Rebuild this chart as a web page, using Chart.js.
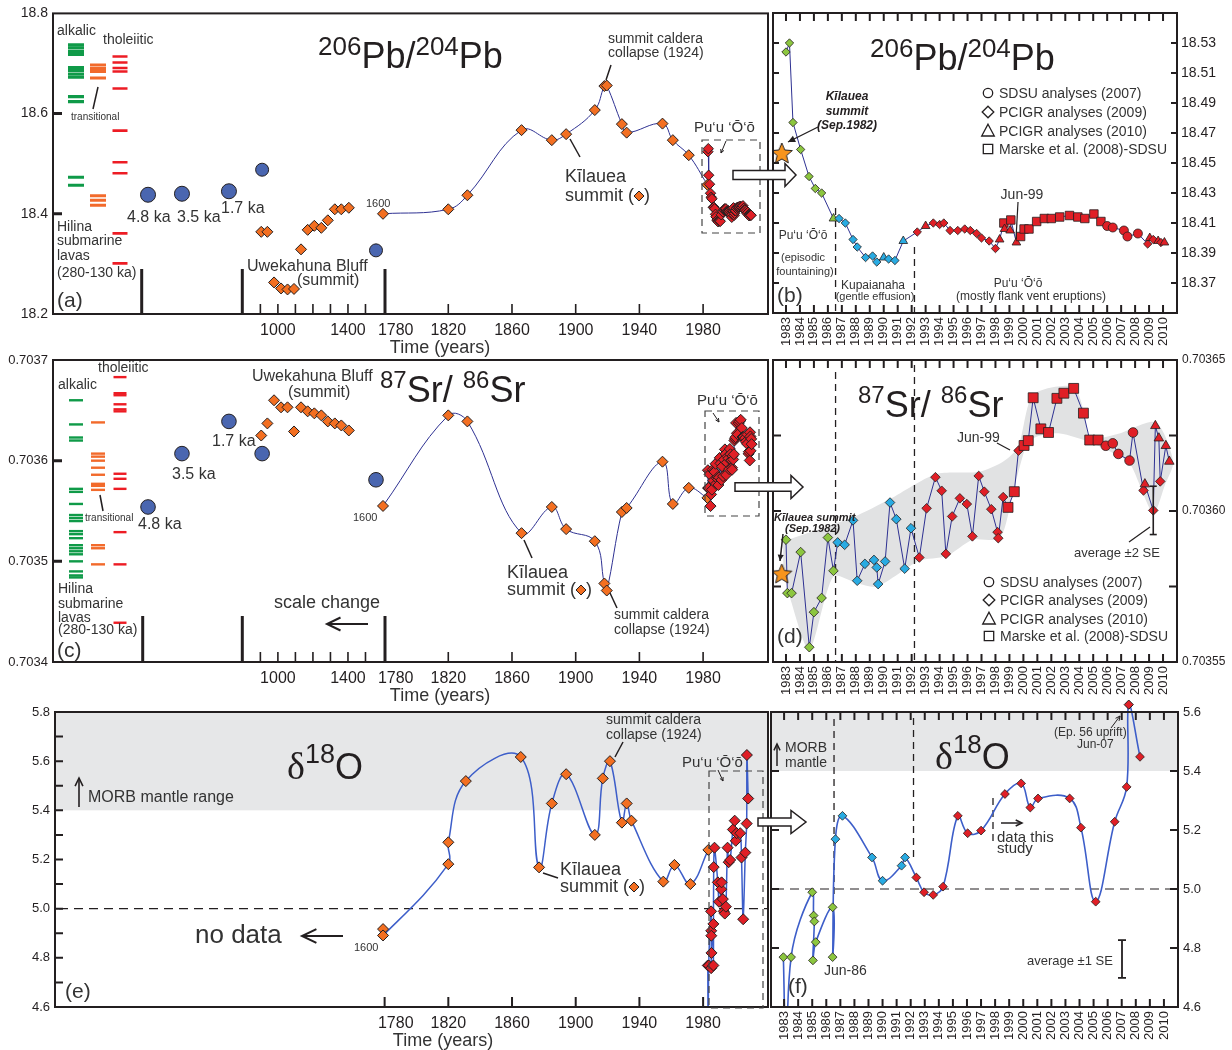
<!DOCTYPE html>
<html>
<head>
<meta charset="utf-8">
<title>Kilauea Pb, Sr, O isotopes through time</title>
<script src="https://cdn.jsdelivr.net/npm/chart.js@4.4.1/dist/chart.umd.min.js"></script>
<style>
  body { margin: 0; background: #fff; }
  #fig { position: relative; width: 1232px; height: 1050px; }
  #fig canvas { position: absolute; left: 0; top: 0; }
</style>
</head>
<body>
<div id="fig">
  <canvas id="pa" width="1232" height="1050"></canvas>
  <canvas id="pb" width="1232" height="1050"></canvas>
  <canvas id="pc" width="1232" height="1050"></canvas>
  <canvas id="pd" width="1232" height="1050"></canvas>
  <canvas id="pe" width="1232" height="1050"></canvas>
  <canvas id="pf" width="1232" height="1050"></canvas>
</div>
<script>
// ---------- data ----------

// historical Kilauea summit lavas (a, c)
var summitYears = [1600, 1820, 1832, 1866, 1885, 1894, 1912, 1918, 1919.5, 1929, 1932, 1954.5, 1961, 1971, 1982.7];
var summitPb = [18.400, 18.409, 18.437, 18.567, 18.547, 18.559, 18.607, 18.655, 18.656, 18.579, 18.562, 18.580, 18.547, 18.517, 18.458];
var summitSr = [0.703555, 0.703645, 0.703639, 0.703528, 0.703554, 0.703532, 0.703520, 0.703478, 0.703471, 0.703549, 0.703553, 0.703599, 0.703557, 0.703573, 0.703563];

// Kilauea summit Sep. 1982 (star)
var starYear = [1982.7];
var starPb = [18.456];
var starSr = [0.703579];

// Uwekahuna Bluff section
var bluffYears = [905, 940, 978, 1018, 1055, 1092, 1132, 1170, 1208, 1248, 1285, 1325, 1362, 1405];
var bluffPb = [18.364, 18.364, 18.263, 18.251, 18.249, 18.250, 18.329, 18.368, 18.376, 18.372, 18.387, 18.409, 18.409, 18.412];
var bluffSr = [0.703625, 0.703637, 0.703660, 0.703653, 0.703653, 0.703629, 0.703653, 0.703649, 0.703647, 0.703645, 0.703639, 0.703637, 0.703635, 0.703630];
var datedYears = [910, 1560];
var datedPb = [18.488, 18.327];
var datedSr = [0.703607, 0.703581];

// older lavas, ages in ka
var kaAges = [4.8, 3.5, 1.7];
var kaPb = [18.438, 18.440, 18.445];
var kaSr = [0.703554, 0.703607, 0.703639];

// Hilina submarine lavas (280-130 ka), columns: 0 alkalic, 1 transitional, 2 tholeiitic
var hilinaAlkPb = [18.737, 18.731, 18.724, 18.718, 18.692, 18.686, 18.679, 18.673, 18.634, 18.624, 18.473, 18.457];
var hilinaTransPb = [18.697, 18.690, 18.684, 18.671, 18.436, 18.427, 18.417];
var hilinaTholPb = [18.714, 18.702, 18.691, 18.684, 18.650, 18.566, 18.503, 18.481, 18.361, 18.301];
var hilinaAlkSr = [0.703660, 0.703636, 0.703623, 0.703620, 0.703572, 0.703569, 0.703557, 0.703546, 0.703543, 0.703540,
                   0.703530, 0.703527, 0.703523, 0.703516, 0.703513, 0.703510, 0.703507, 0.703500, 0.703490, 0.703486, 0.703484];
var hilinaTransSr = [0.703638, 0.703607, 0.703604, 0.703600, 0.703593, 0.703586, 0.703577, 0.703575, 0.703571, 0.703516, 0.703513, 0.703497];
var hilinaTholSr = [0.703683, 0.703667, 0.703665, 0.703656, 0.703651, 0.703649, 0.703587, 0.703582, 0.703572, 0.703529, 0.703497, 0.703439];

// Pu'u 'O'o 206Pb/204Pb (b); marks: d PCIGR 2009, t PCIGR 2010, s Marske 2008, c SDSU 2007
var pbYears = [1983.0, 1983.25, 1983.5, 1984.05, 1984.65, 1985.1, 1985.55, 1986.4, 1986.8, 1987.25,
               1987.8, 1988.1, 1988.7, 1989.2, 1989.5, 1990.0, 1990.35, 1990.8, 1991.4, 1992.4,
               1993.0, 1993.55, 1994.0, 1994.3, 1994.75, 1995.3, 1995.8, 1996.2, 1996.65, 1997.0,
               1997.55, 1998.0, 1998.3, 1998.6, 1998.65, 1999.05, 1999.1, 1999.5, 1999.8, 2000.05,
               2000.4, 2000.95, 2001.5, 2002.0, 2002.6, 2003.3, 2003.9, 2004.4, 2005.05, 2005.55,
               2006.0, 2006.4, 2007.2, 2007.45, 2008.2, 2008.9, 2009.05, 2009.3, 2009.65, 2009.85, 2010.1];
var pbValues = [18.524, 18.530, 18.477, 18.459, 18.441, 18.433, 18.430, 18.413, 18.413, 18.410,
                18.399, 18.394, 18.387, 18.388, 18.384, 18.387, 18.386, 18.385, 18.398, 18.404,
                18.408, 18.410, 18.409, 18.410, 18.405, 18.405, 18.406, 18.405, 18.403, 18.400,
                18.398, 18.393, 18.399, 18.410, 18.406, 18.405, 18.412, 18.397, 18.401, 18.406,
                18.406, 18.411, 18.413, 18.413, 18.414, 18.415, 18.414, 18.413, 18.416, 18.411,
                18.408, 18.407, 18.405, 18.401, 18.403, 18.396, 18.400, 18.399, 18.398, 18.397, 18.397];
var pbMarks = ('dddddddtdd' + 'dddddtddtd' + 'tddddddddd' + 'ddtsttstss' + 'ssssssssss' + 'cccccdtdtdt').split('');

// Pu'u 'O'o 87Sr/86Sr (d)
var srYears = [1983.0, 1983.1, 1983.4, 1984.05, 1984.67, 1985.0, 1985.55, 1986.0, 1986.4, 1986.7,
               1987.2, 1987.8, 1988.1, 1988.65, 1989.3, 1989.5, 1989.6, 1990.1, 1990.45, 1990.9,
               1991.5, 1991.95, 1992.55, 1993.07, 1993.7, 1994.15, 1994.45, 1994.9, 1995.45, 1995.95,
               1996.35, 1996.8, 1997.2, 1997.7, 1998.15, 1998.2, 1998.55, 1998.9, 1999.35, 1999.65,
               2000.05, 2000.35, 2000.7, 2001.25, 2001.8, 2002.4, 2002.9, 2003.6, 2004.3, 2004.75,
               2005.35, 2005.9, 2006.4, 2006.8, 2007.6, 2007.85, 2008.6, 2008.7, 2009.3, 2009.45,
               2009.7, 2009.8, 2010.2, 2010.45];
var srValues = [0.7035905, 0.7035728, 0.7035728, 0.7035864, 0.7035549, 0.7035665, 0.7035712, 0.7035912, 0.7035802, 0.7035896,
                0.7035888, 0.7035969, 0.7035769, 0.7035825, 0.7035838, 0.7035813, 0.7035758, 0.7035833, 0.7036028, 0.7035973,
                0.7035809, 0.7035943, 0.7035846, 0.7036009, 0.7036112, 0.7036067, 0.7035858, 0.7035982, 0.7036042, 0.7036023,
                0.7035916, 0.7036116, 0.7036064, 0.7036006, 0.7035930, 0.7035910, 0.7036046, 0.7036012, 0.7036064, 0.7036200,
                0.7036217, 0.7036233, 0.7036375, 0.7036272, 0.7036260, 0.7036373, 0.7036390, 0.7036406, 0.7036324, 0.7036235,
                0.7036235, 0.7036216, 0.7036224, 0.7036189, 0.7036167, 0.7036260, 0.7036068, 0.7036089, 0.7036002, 0.7036282,
                0.7036241, 0.7036098, 0.7036216, 0.7036164];
var srMarks = ('dddddddddd' + 'dddddddddd' + 'dddddddddd' + 'dddddddssd' + 'ssssssssss' + 'scccccdtdt' + 'tdtt').split('');
var srErrPoint = [2009.3, 0.7036002];
var srTwoSE = 0.000008;

// grey envelope round the Sr data (upper edge, then lower edge back)
var envYears = [1982.8, 1987.82, 1990.45, 1993.72, 1996.82, 1998.56, 1999.63, 2000.7, 2003.57, 2004.34,
                2004.77, 2006.68, 2009.47, 2010.73, 2010.14, 2009.3, 2007.63, 2006.68, 2004.77, 2002.62,
                2000.95, 2000.23, 1999.28, 1998.32, 1996.37, 1994.46, 1992.55, 1989.54, 1988.1, 1986.39,
                1984.67, 1983.29, 1982.8];
var envSr = [0.7035899, 0.7035980, 0.7036040, 0.7036122, 0.7036130, 0.7036164, 0.7036213, 0.7036384, 0.7036412, 0.7036329,
             0.7036241, 0.7036254, 0.7036294, 0.7036164, 0.7036087, 0.7035993, 0.7036158, 0.7036186, 0.7036228, 0.7036257,
             0.7036246, 0.7036219, 0.7036065, 0.7035910, 0.7035905, 0.7035850, 0.7035835, 0.7035750, 0.7035761, 0.7035783,
             0.7035541, 0.7035712, 0.7035800];

// delta 18O: summit (e) and Pu'u 'O'o (f)
var summitOYears = [1600, 1600, 1820, 1820, 1831, 1865.5, 1877, 1885, 1894, 1912, 1917, 1921.5, 1929, 1932, 1935, 1955, 1962, 1972, 1983.3];
var summitO = [4.917, 4.891, 5.181, 5.270, 5.519, 5.617, 5.168, 5.428, 5.547, 5.300, 5.530, 5.600, 5.350, 5.428, 5.358, 5.110, 5.178, 5.100, 5.239];
var oYears = [1982.95, 1983.2, 1983.5, 1985.0, 1985.1, 1985.15, 1985.05, 1985.25, 1986.45, 1986.45,
              1986.65, 1987.15, 1989.25, 1990.0, 1991.35, 1991.6, 1992.4, 1992.95, 1993.6, 1994.3,
              1995.35, 1996.05, 1997.0, 1998.7, 1999.85, 2000.5, 2001.05, 2003.3, 2004.1, 2005.15,
              2006.5, 2007.35, 2007.5, 2008.3];
var oValues = [4.769, 4.30, 4.769, 4.989, 4.910, 4.890, 4.758, 4.820, 4.938, 4.769,
               5.169, 5.248, 5.107, 5.028, 5.079, 5.107, 5.039, 4.989, 4.980, 5.008,
               5.248, 5.189, 5.198, 5.322, 5.358, 5.276, 5.307, 5.307, 5.208, 4.957,
               5.228, 5.346, 5.625, 5.448];
var morbRange = [5.4, 5.8];
var oRefLine = 5.0;
var oOneSE = 0.064;

// eruption phases: episodic fountaining | Kupaianaha | flank vents
var phaseBreaks = [1986.55, 1992.2];
var phaseColors = ['#8cc63f', '#29abe2', '#e01f26'];

// axis ticks
var pbTicksA = [18.2, 18.4, 18.6, 18.8];
var srTicksC = [0.7034, 0.7035, 0.7036, 0.7037];
var oTicksE = [4.6, 4.8, 5.0, 5.2, 5.4, 5.6, 5.8];
var oMinorE = [4.7, 4.8, 4.9, 5.0, 5.1, 5.2, 5.3, 5.4, 5.5, 5.6, 5.7];
var pbTicksB = [18.37, 18.39, 18.41, 18.43, 18.45, 18.47, 18.49, 18.51, 18.53];
var srTicksD = [0.70355, 0.70360, 0.70365];
var srMinorD = [0.703575, 0.703625];
var oTicksF = [4.6, 4.8, 5.0, 5.2, 5.4, 5.6];
var mainYearTicks = [1780, 1820, 1860, 1900, 1940, 1980];
var calYearTicks = [1000, 1400];
var calMinorTicks = [900, 1000, 1100, 1200, 1300, 1400, 1500];
var pooTickYears = [];
for (var yr = 1983; yr <= 2010; yr++) pooTickYears.push(yr);

var legendShapes = ['circle', 'diamond', 'triangle', 'square'];
var legendLabels = ['SDSU analyses (2007)', 'PCIGR analyses (2009)', 'PCIGR analyses (2010)', 'Marske et al. (2008)-SDSU'];

// ---------- styles ----------
var SANS = '"Liberation Sans", Arial, Helvetica, sans-serif';
var SERIF = '"Liberation Serif", "Times New Roman", serif';
var INK = '#231f20', TXT = '#333333';
var ORANGE = '#f36f21', RED = '#e01f26', BLUE = '#4a66b0';
var LINE = '#2e3192', LINE2 = '#3d5ec9';
var ALK = '#0f9a48', TRANS = '#f26a2b', THOL = '#ed1c24';
var PUU = 'Pu\u2018u \u2018\u014c\u2018\u014d';
Chart.defaults.font.family = SANS;

// years before 1780 sit on a squeezed stretch left of the axis break
function squeeze(y) { return y >= 1780 ? y : 1780 - (1609 - y) * 0.11; }
function unsqueeze(u) { return u >= 1780 ? u : 1609 - (1780 - u) / 0.11; }
function phaseColor(y) { return y < phaseBreaks[0] ? phaseColors[0] : (y < phaseBreaks[1] ? phaseColors[1] : phaseColors[2]); }
function pts(xs, ys, fx) { return xs.map(function (x, i) { return { x: fx ? fx(x) : x, y: ys[i] }; }); }

// ---------- axes ----------
function yAxis(side, width, min, max, values, digits, size, pad) {
  return {
    type: 'linear', position: side, min: min, max: max,
    afterBuildTicks: function (s) { s.ticks = values.map(function (v) { return { value: v }; }); },
    afterFit: function (s) { s.width = width; },
    grid: { display: false, drawTicks: false }, border: { display: false },
    ticks: { autoSkip: false, padding: pad, color: INK, font: { family: SANS, size: size },
      callback: function (v) { return Number(v).toFixed(digits); } }
  };
}
function yearAxis(min, max, years, height) {
  return {
    type: 'linear', position: 'bottom', min: min, max: max,
    afterBuildTicks: function (s) { s.ticks = years.map(function (y) { return { value: squeeze(y) }; }); },
    afterFit: function (s) { s.height = height; },
    grid: { display: false, drawTicks: false }, border: { display: false },
    ticks: { autoSkip: false, maxRotation: 0, padding: 7, color: INK, font: { family: SANS, size: 16 },
      callback: function (v) {
        var y = Math.round(unsqueeze(v));
        // the break year label sits just right of the break bar
        return y === 1780 ? '     1780' : String(y);
      } }
  };
}
function pooAxis(height) {
  return {
    type: 'linear', position: 'bottom', min: 1982.07, max: 2011,
    afterBuildTicks: function (s) { s.ticks = pooTickYears.map(function (y) { return { value: y }; }); },
    afterFit: function (s) { s.height = height; },
    grid: { display: false, drawTicks: false }, border: { display: false },
    ticks: { autoSkip: false, minRotation: 90, maxRotation: 90, padding: 4, color: INK,
      font: { family: SANS, size: 13 }, callback: function (v) { return String(v); } }
  };
}
var kaAxis = { axis: 'x', type: 'linear', display: false, reverse: true, min: -18.95, max: 8.44 };
var colAxis = { axis: 'x', type: 'linear', display: false, min: -1.045, max: 31.45 };

// ---------- datasets ----------
function diamonds(xs, ys, fx, fill, r, extra) {
  return Object.assign({ data: pts(xs, ys, fx), showLine: false, pointStyle: 'rectRot', pointRadius: r,
    pointBackgroundColor: fill, pointBorderColor: INK, pointBorderWidth: 1 }, extra || {});
}
function dots(xs, ys, fx, axisId, r) {
  return { xAxisID: axisId, data: pts(xs, ys, fx), showLine: false, pointStyle: 'circle', pointRadius: r,
    pointBackgroundColor: BLUE, pointBorderColor: INK, pointBorderWidth: 1, order: 3 };
}
function bars(col, ys, color, half, w) {
  return { xAxisID: 'xh', data: ys.map(function (y) { return { x: col, y: y }; }), showLine: false,
    pointStyle: 'line', pointRadius: half, pointBorderColor: color, pointBorderWidth: w, order: 4 };
}
var markStyle = { d: 'rectRot', t: 'triangle', s: 'rect', c: 'circle' };
function pooSeries(years, values, marks, sizes, extra) {
  return Object.assign({ data: pts(years, values), showLine: true, borderColor: LINE, borderWidth: 1, tension: 0,
    pointStyle: marks.map(function (m) { return markStyle[m]; }),
    pointRadius: marks.map(function (m) { return sizes[m]; }),
    pointBackgroundColor: years.map(phaseColor), pointBorderColor: INK, pointBorderWidth: 0.8 }, extra || {});
}
function starImage(r) {
  var cv = document.createElement('canvas'), s = Math.ceil(r * 2 + 4);
  cv.width = cv.height = s;
  var g = cv.getContext('2d');
  g.beginPath();
  for (var i = 0; i < 10; i++) {
    var rr = i % 2 ? r * 0.45 : r, ang = -Math.PI / 2 + i * Math.PI / 5;
    g.lineTo(s / 2 + rr * Math.cos(ang), s / 2 + rr * Math.sin(ang));
  }
  g.closePath(); g.fillStyle = '#f7941d'; g.fill(); g.strokeStyle = INK; g.lineWidth = 1; g.stroke();
  return cv;
}

// ---------- drawing helpers ----------
function say(ctx, s, x, y, size, align, style, color) {
  ctx.font = (style ? style + ' ' : '') + size + 'px ' + SANS;
  ctx.fillStyle = color || TXT; ctx.textAlign = align || 'left'; ctx.textBaseline = 'alphabetic';
  ctx.fillText(s, x, y);
}
function stack(ctx, parts, x, y) {
  ctx.fillStyle = INK; ctx.textAlign = 'left'; ctx.textBaseline = 'alphabetic';
  parts.forEach(function (p) {
    ctx.font = p[1] + 'px ' + (p[3] || SANS);
    ctx.fillText(p[0], x, y - p[2]);
    x += ctx.measureText(p[0]).width;
  });
}
function seg(ctx, x1, y1, x2, y2, w, dash) {
  ctx.save(); ctx.strokeStyle = INK; ctx.lineWidth = w || 1; ctx.setLineDash(dash || []);
  ctx.beginPath(); ctx.moveTo(x1, y1); ctx.lineTo(x2, y2); ctx.stroke(); ctx.restore();
}
function arrowTo(ctx, x1, y1, x2, y2, head, w, filled) {
  seg(ctx, x1, y1, x2, y2, w);
  var ang = Math.atan2(y2 - y1, x2 - x1);
  ctx.save(); ctx.strokeStyle = INK; ctx.fillStyle = INK; ctx.lineWidth = w || 1;
  ctx.beginPath();
  ctx.moveTo(x2 - head * Math.cos(ang - 0.45), y2 - head * Math.sin(ang - 0.45));
  ctx.lineTo(x2, y2);
  ctx.lineTo(x2 - head * Math.cos(ang + 0.45), y2 - head * Math.sin(ang + 0.45));
  if (filled) { ctx.closePath(); ctx.fill(); } else { ctx.stroke(); }
  ctx.restore();
}
function bigArrow(ctx, x0, x1, tip, y, bh, hh) {
  ctx.save(); ctx.beginPath();
  ctx.moveTo(x0, y - bh); ctx.lineTo(x1, y - bh); ctx.lineTo(x1, y - hh); ctx.lineTo(tip, y);
  ctx.lineTo(x1, y + hh); ctx.lineTo(x1, y + bh); ctx.lineTo(x0, y + bh); ctx.closePath();
  ctx.fillStyle = '#fff'; ctx.fill(); ctx.strokeStyle = INK; ctx.lineWidth = 1.5; ctx.stroke();
  ctx.restore();
}
function dashBox(ctx, x1, y1, x2, y2) {
  ctx.save(); ctx.strokeStyle = '#444'; ctx.lineWidth = 1.2; ctx.setLineDash([7, 5]);
  ctx.strokeRect(x1, y1, x2 - x1, y2 - y1); ctx.restore();
}
function gem(ctx, x, y, r, fill) {
  ctx.save(); ctx.beginPath();
  ctx.moveTo(x, y - r); ctx.lineTo(x + r, y); ctx.lineTo(x, y + r); ctx.lineTo(x - r, y); ctx.closePath();
  ctx.fillStyle = fill; ctx.fill(); ctx.strokeStyle = INK; ctx.lineWidth = 1; ctx.stroke(); ctx.restore();
}
function hollow(ctx, kind, x, y) {
  ctx.save(); ctx.strokeStyle = INK; ctx.lineWidth = 1.3; ctx.beginPath();
  if (kind === 'circle') ctx.arc(x, y, 4.7, 0, Math.PI * 2);
  if (kind === 'diamond') { ctx.moveTo(x, y - 5.8); ctx.lineTo(x + 5.8, y); ctx.lineTo(x, y + 5.8); ctx.lineTo(x - 5.8, y); ctx.closePath(); }
  if (kind === 'triangle') { ctx.moveTo(x, y - 6.8); ctx.lineTo(x + 6.3, y + 5); ctx.lineTo(x - 6.3, y + 5); ctx.closePath(); }
  if (kind === 'square') ctx.rect(x - 4.7, y - 4.7, 9.4, 9.4);
  ctx.stroke(); ctx.restore();
}
function legendBlock(ctx, x, rows) {
  legendShapes.forEach(function (k, i) {
    hollow(ctx, k, x, rows[i]);
    say(ctx, legendLabels[i], x + 11, rows[i] + 5, 14);
  });
}
function summitKey(ctx, x, y1, y2) {
  say(ctx, 'K\u012blauea', x, y1, 18);
  say(ctx, 'summit (', x, y2, 18);
  var w = ctx.measureText('summit (').width;
  gem(ctx, x + w + 5, y2 - 5, 5, ORANGE);
  say(ctx, ')', x + w + 10, y2, 18);
}
function frame(ctx, a) {
  ctx.save(); ctx.strokeStyle = INK; ctx.lineWidth = 2; ctx.setLineDash([]);
  ctx.strokeRect(a.left, a.top, a.right - a.left, a.bottom - a.top); ctx.restore();
}
function tickMarks(ctx, scale, values, side, a, len, w) {
  ctx.save(); ctx.strokeStyle = INK; ctx.lineWidth = w; ctx.beginPath();
  values.forEach(function (v) {
    var p = scale.getPixelForValue(v);
    if (side === 'left') { ctx.moveTo(a.left, p); ctx.lineTo(a.left + len, p); }
    if (side === 'right') { ctx.moveTo(a.right, p); ctx.lineTo(a.right - len, p); }
    if (side === 'bottom') { ctx.moveTo(p, a.bottom); ctx.lineTo(p, a.bottom - len); }
    if (side === 'top') { ctx.moveTo(p, a.top); ctx.lineTo(p, a.top + len); }
  });
  ctx.stroke(); ctx.restore();
}
function phaseLines(c, ctx, spans) {
  phaseBreaks.forEach(function (y, i) {
    var px = c.scales.x.getPixelForValue(y);
    seg(ctx, px, spans[i][0], px, spans[i][1], 1.3, [7, 5]);
  });
}
function morbBand(c, ctx) {
  var a = c.chartArea, s = c.scales.y;
  var top = Math.max(s.getPixelForValue(morbRange[1]), a.top), bot = s.getPixelForValue(morbRange[0]);
  ctx.fillStyle = '#e6e7e8'; ctx.fillRect(a.left, top, a.right - a.left, bot - top);
  var py = s.getPixelForValue(oRefLine);
  seg(ctx, a.left + 4, py, a.right, py, 1.2, [9, 6]);
}
function yearFrame(c, ctx, yVals, len) {
  var a = c.chartArea;
  frame(ctx, a);
  tickMarks(ctx, c.scales.x, pooTickYears, 'top', a, 8, 2);
  tickMarks(ctx, c.scales.x, pooTickYears, 'bottom', a, 8, 2);
  tickMarks(ctx, c.scales.y, yVals, 'left', a, len, 2);
  tickMarks(ctx, c.scales.y, yVals, 'right', a, len, 2);
}

function decor(hooks) {
  function paint(chart, fn) { var ctx = chart.ctx; ctx.save(); fn(chart, ctx); ctx.restore(); }
  return {
    id: 'decor',
    beforeDatasetsDraw: function (chart) { if (hooks.under) paint(chart, hooks.under); },
    afterDatasetDraw: function (chart, args) { if (hooks.mid && args.index === 0) paint(chart, hooks.mid); },
    afterDraw: function (chart) { if (hooks.over) paint(chart, hooks.over); }
  };
}
function panel(id, datasets, pad, scales, hooks) {
  return new Chart(document.getElementById(id), {
    type: 'scatter',
    data: { datasets: datasets },
    options: {
      responsive: false, animation: false, devicePixelRatio: 1, events: [],
      layout: { padding: pad },
      plugins: { legend: { display: false }, tooltip: { enabled: false } },
      scales: scales
    },
    plugins: [decor(hooks)]
  });
}

// ---------- (a) 206Pb/204Pb through time ----------
panel('pa', [
  diamonds(pbYears, pbValues, null, RED, 5.2, { showLine: true, borderColor: LINE, borderWidth: 1, order: 1 }),
  diamonds(summitYears, summitPb, squeeze, ORANGE, 5.5, { showLine: true, borderColor: LINE, borderWidth: 1, tension: 0.4, order: 2 }),
  diamonds(bluffYears, bluffPb, squeeze, ORANGE, 5.5, { order: 3 }),
  dots(datedYears, datedPb, squeeze, 'x', 6.5),
  dots(kaAges, kaPb, null, 'xka', 7.5),
  bars(0, hilinaAlkPb, ALK, 8, 3.2),
  bars(1, hilinaTransPb, TRANS, 8, 3),
  bars(2, hilinaTholPb, THOL, 7.5, 2.6)
], { left: 0, top: 13, right: 464, bottom: 692 }, {
  x: yearAxis(1571.8, 2020.75, calYearTicks.concat(mainYearTicks), 44),
  xka: kaAxis, xh: colAxis,
  y: yAxis('left', 53, 18.2, 18.8, pbTicksA, 1, 14, 5)
}, {
  over: function (c, ctx) {
    var a = c.chartArea;
    frame(ctx, a);
    tickMarks(ctx, c.scales.y, pbTicksA.slice(1, -1), 'left', a, 9, 3);
    tickMarks(ctx, c.scales.x, calMinorTicks.map(squeeze).concat(mainYearTicks.slice(1)), 'bottom', a, 10, 1.6);
    [141.7, 242.3, 385].forEach(function (bx) { seg(ctx, bx, 269, bx, a.bottom, 3); });
    stack(ctx, [['206', 26, 13], ['Pb/', 36, 0], ['204', 26, 13], ['Pb', 36, 0]], 318, 68);
    say(ctx, 'alkalic', 57, 35, 14);
    say(ctx, 'tholeiitic', 103, 44, 14);
    say(ctx, 'transitional', 71, 120, 10);
    seg(ctx, 98, 87, 93, 109, 1.5);
    say(ctx, 'Hilina', 57, 231, 14);
    say(ctx, 'submarine', 57, 245, 14);
    say(ctx, 'lavas', 57, 260, 14);
    say(ctx, '(280-130 ka)', 57, 277, 14);
    say(ctx, '4.8 ka', 127, 222, 16);
    say(ctx, '3.5 ka', 177, 222, 16);
    say(ctx, '1.7 ka', 221, 213, 16);
    say(ctx, 'Uwekahuna Bluff', 247, 271, 16);
    say(ctx, '(summit)', 297, 285, 16);
    say(ctx, '1600', 366, 207, 11);
    say(ctx, '(a)', 57, 307, 21);
    say(ctx, 'summit caldera', 608, 43, 14);
    say(ctx, 'collapse (1924)', 608, 57, 14);
    seg(ctx, 611, 65, 606, 80, 1.5);
    summitKey(ctx, 565, 182, 201);
    seg(ctx, 580, 157, 570, 139, 1.5);
    say(ctx, PUU, 694, 132, 15);
    arrowTo(ctx, 726, 141, 721, 153, 4, 1);
    dashBox(ctx, 702, 140, 760, 233);
    say(ctx, 'Time (years)', 440, 353, 18, 'center');
  }
});

// ---------- (b) Pu'u 'O'o 206Pb/204Pb ----------
panel('pb', [
  pooSeries(pbYears, pbValues, pbMarks, { d: 4.2, t: 5, s: 6, c: 4.5 }, { order: 1 }),
  { data: pts(starYear, starPb), showLine: false, pointStyle: starImage(11), pointRadius: 11, order: 0 }
], { left: 773, top: 13, right: 0, bottom: 697 }, {
  x: pooAxis(40),
  y: yAxis('right', 55, 18.35, 18.55, pbTicksB, 2, 14, 4)
}, {
  under: function (c, ctx) { phaseLines(c, ctx, [[208, 313], [247, 313]]); },
  over: function (c, ctx) {
    yearFrame(c, ctx, pbTicksB, 6);
    stack(ctx, [['206', 26, 13], ['Pb/', 36, 0], ['204', 26, 13], ['Pb', 36, 0]], 870, 70);
    legendBlock(ctx, 988, [93, 112, 131, 149]);
    say(ctx, 'K\u012blauea', 847, 100, 12, 'center', 'italic bold', INK);
    say(ctx, 'summit', 847, 115, 12, 'center', 'italic bold', INK);
    say(ctx, '(Sep.1982)', 847, 129, 12, 'center', 'italic bold', INK);
    arrowTo(ctx, 818, 127, 788, 142, 8, 1.3, true);
    say(ctx, PUU, 803, 239, 12, 'center');
    say(ctx, '(episodic', 803, 261, 11, 'center');
    say(ctx, 'fountaining)', 805, 275, 11, 'center');
    say(ctx, 'Kupaianaha', 873, 289, 12, 'center');
    say(ctx, '(gentle effusion)', 875, 300, 11, 'center');
    say(ctx, PUU, 1018, 287, 12, 'center');
    say(ctx, '(mostly flank vent eruptions)', 1031, 300, 12, 'center');
    say(ctx, 'Jun-99', 1022, 199, 14, 'center');
    seg(ctx, 1018, 202, 1016, 239, 1.2);
    say(ctx, '(b)', 777, 302, 21);
    bigArrow(ctx, 733, 785, 796, 175, 4.5, 11.5);
  }
});

// ---------- (c) 87Sr/86Sr through time ----------
panel('pc', [
  diamonds(srYears, srValues, null, RED, 5.5, { showLine: true, borderColor: LINE, borderWidth: 1, order: 1 }),
  diamonds(summitYears, summitSr, squeeze, ORANGE, 5.5, { showLine: true, borderColor: LINE, borderWidth: 1, tension: 0.4, order: 2 }),
  diamonds(bluffYears, bluffSr, squeeze, ORANGE, 5.5, { order: 3 }),
  dots(datedYears, datedSr, squeeze, 'x', 7.3),
  dots(kaAges, kaSr, null, 'xka', 7.3),
  bars(0, hilinaAlkSr, ALK, 7, 2.4),
  bars(1, hilinaTransSr, TRANS, 7, 2.4),
  bars(2, hilinaTholSr, THOL, 6.5, 2.4)
], { left: 0, top: 360, right: 464, bottom: 344 }, {
  x: yearAxis(1571.8, 2020.75, calYearTicks.concat(mainYearTicks), 44),
  xka: kaAxis, xh: colAxis,
  y: yAxis('left', 53, 0.7034, 0.7037, srTicksC, 4, 13, 5)
}, {
  over: function (c, ctx) {
    var a = c.chartArea;
    frame(ctx, a);
    tickMarks(ctx, c.scales.y, srTicksC.slice(1, -1), 'left', a, 9, 3);
    tickMarks(ctx, c.scales.x, calMinorTicks.map(squeeze).concat(mainYearTicks.slice(1)), 'bottom', a, 10, 1.6);
    [142.7, 242.3, 385].forEach(function (bx) { seg(ctx, bx, 616, bx, a.bottom, 3); });
    stack(ctx, [['87', 24, 14], ['Sr/ ', 36, 0], ['86', 24, 14], ['Sr', 36, 0]], 380, 402);
    say(ctx, 'alkalic', 58, 389, 14);
    say(ctx, 'tholeiitic', 98, 372, 14);
    say(ctx, 'transitional', 85, 521, 10);
    seg(ctx, 100, 495, 103, 511, 1.5);
    say(ctx, 'Hilina', 58, 593, 14);
    say(ctx, 'submarine', 58, 608, 14);
    say(ctx, 'lavas', 58, 622, 14);
    say(ctx, '(280-130 ka)', 58, 634, 14);
    say(ctx, '4.8 ka', 138, 529, 16);
    say(ctx, '3.5 ka', 172, 479, 16);
    say(ctx, '1.7 ka', 212, 446, 16);
    say(ctx, 'Uwekahuna Bluff', 252, 381, 16);
    say(ctx, '(summit)', 288, 397, 16);
    say(ctx, '1600', 353, 521, 11);
    say(ctx, 'scale change', 274, 608, 18);
    arrowTo(ctx, 368, 624, 327, 624, 15, 2);
    say(ctx, '(c)', 57, 657, 21);
    summitKey(ctx, 507, 578, 595);
    seg(ctx, 524, 540, 532, 558, 1.5);
    say(ctx, 'summit caldera', 614, 619, 14);
    say(ctx, 'collapse (1924)', 614, 634, 14);
    seg(ctx, 610, 593, 617, 608, 1.5);
    say(ctx, PUU, 697, 405, 15);
    arrowTo(ctx, 713, 413, 719, 422, 4, 1);
    dashBox(ctx, 705, 411, 759, 516);
    say(ctx, 'Time (years)', 440, 701, 18, 'center');
  }
});

// ---------- (d) Pu'u 'O'o 87Sr/86Sr ----------
panel('pd', [
  { data: pts(envYears, envSr), showLine: true, fill: 'shape', backgroundColor: '#e1e2e3',
    borderColor: 'rgba(0,0,0,0)', borderWidth: 0, pointRadius: 0, tension: 0.25, order: 10 },
  pooSeries(srYears, srValues, srMarks, { d: 4.8, t: 5.5, s: 7, c: 4.8 }, { order: 1 }),
  { data: pts(starYear, starSr), showLine: false, pointStyle: starImage(10.5), pointRadius: 10.5, order: 0 }
], { left: 773, top: 360, right: 0, bottom: 348 }, {
  x: pooAxis(40),
  y: yAxis('right', 55, 0.70355, 0.70365, srTicksD, 5, 12, 5)
}, {
  mid: function (c, ctx) { phaseLines(c, ctx, [[372, 662], [365, 662]]); },
  over: function (c, ctx) {
    var x = c.scales.x, y = c.scales.y;
    yearFrame(c, ctx, srTicksD.concat(srMinorD), 8);
    var ex = x.getPixelForValue(srErrPoint[0]);
    var e1 = y.getPixelForValue(srErrPoint[1] + srTwoSE), e2 = y.getPixelForValue(srErrPoint[1] - srTwoSE);
    seg(ctx, ex, e1, ex, e2, 1.6); seg(ctx, ex - 3.5, e1, ex + 3.5, e1, 1.6); seg(ctx, ex - 3.5, e2, ex + 3.5, e2, 1.6);
    stack(ctx, [['87', 24, 14], ['Sr/ ', 36, 0], ['86', 24, 14], ['Sr', 36, 0]], 858, 417);
    legendBlock(ctx, 989, [582, 600, 619, 636]);
    say(ctx, 'average \u00b12 SE', 1074, 557, 13);
    seg(ctx, 1150, 527, 1129, 542, 1.2);
    say(ctx, 'Jun-99', 957, 442, 14);
    seg(ctx, 997, 443, 1010, 450, 1.2);
    say(ctx, 'K\u012blauea summit', 774, 521, 11, 'left', 'italic bold', INK);
    say(ctx, '(Sep.1982)', 785, 532, 11, 'left', 'italic bold', INK);
    arrowTo(ctx, 783, 534, 780, 561, 7, 1.5, true);
    say(ctx, '(d)', 777, 643, 21);
    bigArrow(ctx, 735, 791, 803, 487, 4.2, 11.5);
  }
});

// ---------- (e) delta 18O through time ----------
panel('pe', [
  diamonds(oYears, oValues, null, RED, 5.5, { showLine: true, borderColor: LINE2, borderWidth: 1.5, tension: 0.3, order: 1 }),
  diamonds(summitOYears, summitO, squeeze, ORANGE, 5.5, { showLine: true, borderColor: LINE2, borderWidth: 1.5, tension: 0.4, order: 2 })
], { left: 0, top: 712, right: 464, bottom: 0 }, {
  x: yearAxis(1573.0, 2020.75, mainYearTicks, 43),
  y: yAxis('left', 55, 4.6, 5.8, oTicksE, 1, 13, 5)
}, {
  under: function (c, ctx) { morbBand(c, ctx); },
  over: function (c, ctx) {
    var a = c.chartArea;
    frame(ctx, a);
    tickMarks(ctx, c.scales.y, oMinorE, 'left', a, 8, 2);
    tickMarks(ctx, c.scales.x, mainYearTicks, 'bottom', a, 10, 2);
    stack(ctx, [['\u03b4', 38, 0, SERIF], ['18', 27, 16], ['O', 36, 0]], 287, 779);
    say(ctx, 'MORB mantle range', 88, 802, 16);
    arrowTo(ctx, 79, 807, 79, 778, 9, 1.6);
    say(ctx, 'no data', 195, 943, 26);
    arrowTo(ctx, 343, 936, 302, 936, 16, 2);
    say(ctx, '1600', 354, 951, 11);
    say(ctx, '(e)', 65, 998, 21);
    say(ctx, 'summit caldera', 606, 724, 14);
    say(ctx, 'collapse (1924)', 606, 739, 14);
    seg(ctx, 623, 742, 615, 757, 1.5);
    summitKey(ctx, 560, 875, 892);
    seg(ctx, 543, 873, 558, 878, 1.5);
    say(ctx, PUU, 682, 767, 15);
    arrowTo(ctx, 718, 770, 723, 781, 4, 1);
    dashBox(ctx, 709, 771, 763, 1008);
    say(ctx, 'Time (years)', 443, 1046, 18, 'center');
  }
});

// ---------- (f) Pu'u 'O'o delta 18O ----------
panel('pf', [
  Object.assign(pooSeries(oYears, oValues, oYears.map(function () { return 'd'; }), { d: 4.4 },
    { borderColor: LINE2, borderWidth: 1.6, tension: 0.4, clip: { left: 6, top: false, right: 6, bottom: 0 } }))
], { left: 771, top: 712, right: 0, bottom: 0 }, {
  x: pooAxis(43),
  y: yAxis('right', 54, 4.6, 5.6, oTicksF, 1, 13, 5)
}, {
  under: function (c, ctx) {
    morbBand(c, ctx);
    phaseLines(c, ctx, [[719, 895], [718, 858]]);
    seg(ctx, 993, 798, 993, 845, 1.3, [7, 5]);
  },
  over: function (c, ctx) {
    var x = c.scales.x, y = c.scales.y;
    yearFrame(c, ctx, oTicksF, 8);
    // the Ep. 56 sample plots above the top of the axis; Chart.js skips points outside the area
    oValues.forEach(function (v, i) {
      if (v > y.max) gem(ctx, x.getPixelForValue(oYears[i]), y.getPixelForValue(v), 4.6, phaseColor(oYears[i]));
    });
    stack(ctx, [['\u03b4', 38, 0, SERIF], ['18', 26, 16], ['O', 36, 0]], 935, 769);
    say(ctx, 'MORB', 785, 752, 14);
    say(ctx, 'mantle', 785, 767, 14);
    arrowTo(ctx, 777, 766, 777, 744, 7, 1.5);
    say(ctx, '(Ep. 56 uprift)', 1054, 736, 12);
    say(ctx, 'Jun-07', 1077, 748, 12);
    arrowTo(ctx, 1111, 728, 1120, 716, 5, 1);
    say(ctx, 'data this', 997, 842, 15);
    say(ctx, 'study', 997, 853, 15);
    arrowTo(ctx, 1001, 823, 1022, 823, 7, 1.5);
    say(ctx, 'Jun-86', 824, 975, 14);
    say(ctx, 'average \u00b11 SE', 1027, 965, 13);
    var half = Math.abs(y.getPixelForValue(4.6 + oOneSE) - y.getPixelForValue(4.6));
    seg(ctx, 1122, 959 - half, 1122, 959 + half, 1.8);
    seg(ctx, 1118, 959 - half, 1126, 959 - half, 1.8);
    seg(ctx, 1118, 959 + half, 1126, 959 + half, 1.8);
    say(ctx, '(f)', 788, 993, 21);
    bigArrow(ctx, 758, 791, 806, 822, 4, 11.5);
  }
});
</script>
</body>
</html>
